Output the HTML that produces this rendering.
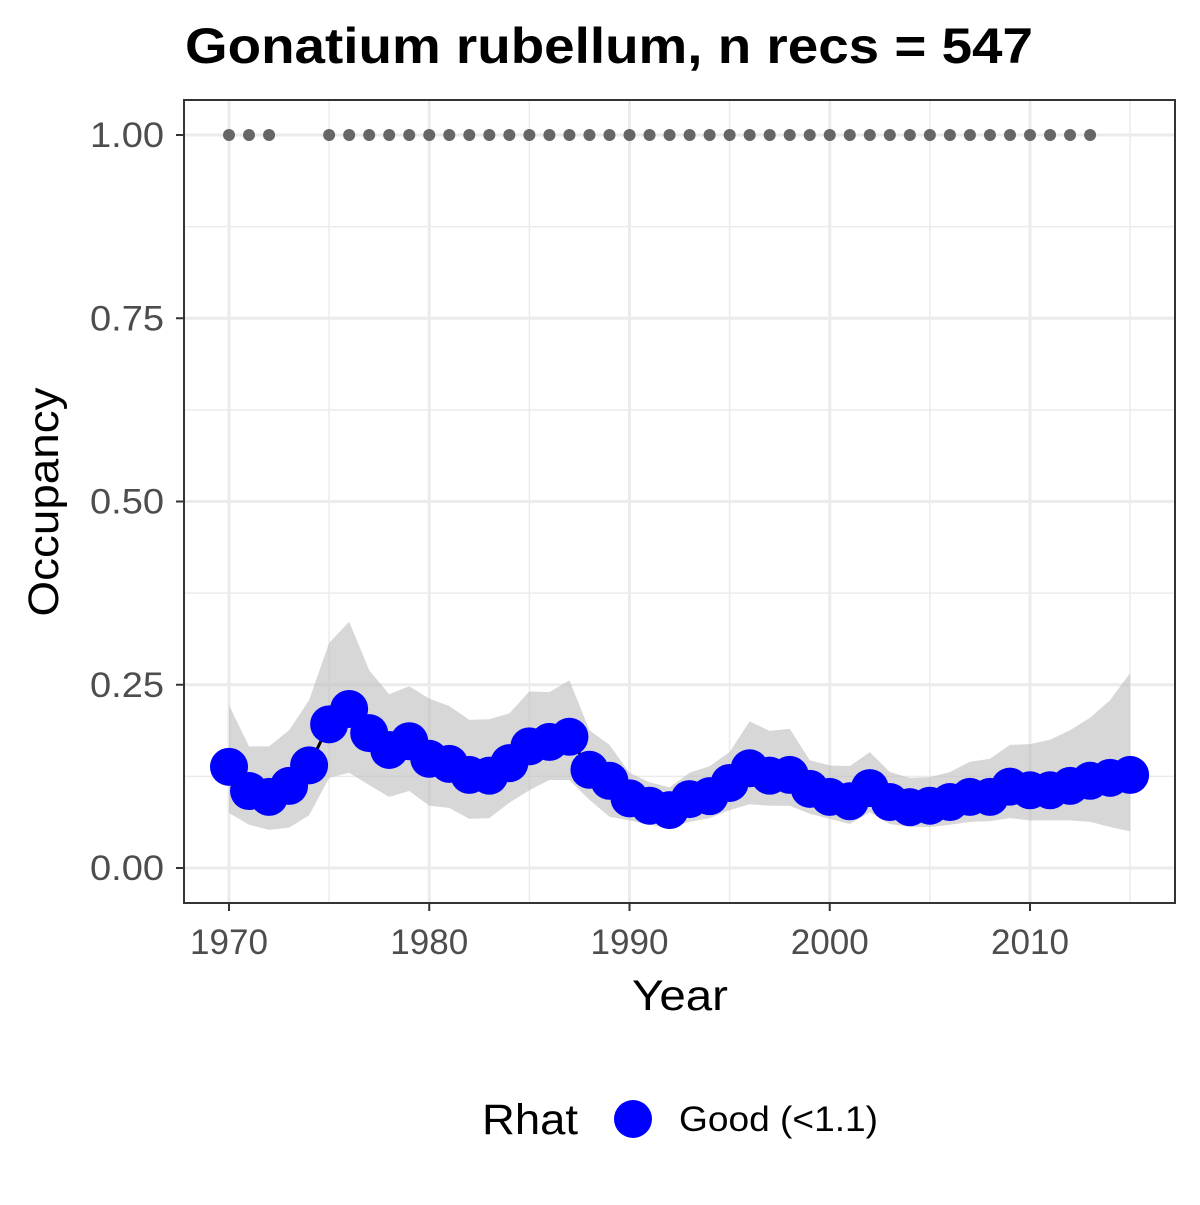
<!DOCTYPE html>
<html><head><meta charset="utf-8"><style>
body{margin:0;background:#fff;}
svg text{font-family:"Liberation Sans",Arial,sans-serif;}
</style></head><body>
<svg id="chart" width="1200" height="1200" viewBox="0 0 1200 1200">
<rect width="1200" height="1200" fill="#fff"/>
<text x="185" y="63" font-size="50" font-weight="bold" fill="#000" textLength="848" lengthAdjust="spacingAndGlyphs">Gonatium rubellum, n recs = 547</text>
<g id="grid"></g>
<g id="band"></g>
<g id="pts"></g>
<g id="recs"></g>
<rect x="184" y="100" width="991" height="803" fill="none" stroke="#333" stroke-width="2"/>
<g id="axes"></g>
<text x="680" y="1010" font-size="43" text-anchor="middle" fill="#000" textLength="96" lengthAdjust="spacingAndGlyphs">Year</text>
<text transform="translate(58,502) rotate(-90)" font-size="43" text-anchor="middle" fill="#000" textLength="229" lengthAdjust="spacingAndGlyphs">Occupancy</text>
<g>
<text x="482" y="1134" font-size="43" fill="#000" textLength="96" lengthAdjust="spacingAndGlyphs">Rhat</text>
<circle cx="633" cy="1119" r="19" fill="#0000ff"/>
<text x="679" y="1131" font-size="35" fill="#000" textLength="199" lengthAdjust="spacingAndGlyphs">Good (&lt;1.1)</text>
</g>
</svg>
<script>
const years=[1970,1971,1972,1973,1974,1975,1976,1977,1978,1979,1980,1981,1982,1983,1984,1985,1986,1987,1988,1989,1990,1991,1992,1993,1994,1995,1996,1997,1998,1999,2000,2001,2002,2003,2004,2005,2006,2007,2008,2009,2010,2011,2012,2013,2014,2015];
const occupancy=[0.138,0.105,0.097,0.112,0.14,0.196,0.217,0.184,0.161,0.173,0.149,0.142,0.127,0.126,0.143,0.166,0.172,0.179,0.134,0.119,0.095,0.085,0.079,0.094,0.098,0.116,0.136,0.126,0.127,0.108,0.097,0.091,0.109,0.09,0.083,0.085,0.09,0.097,0.097,0.111,0.106,0.106,0.112,0.119,0.123,0.127];
const upper=[0.222,0.166,0.166,0.188,0.229,0.307,0.336,0.27,0.237,0.248,0.231,0.221,0.202,0.203,0.211,0.241,0.24,0.256,0.188,0.168,0.13,0.117,0.11,0.13,0.139,0.158,0.2,0.187,0.19,0.147,0.14,0.139,0.158,0.131,0.123,0.124,0.131,0.145,0.149,0.168,0.169,0.175,0.188,0.205,0.229,0.266];
const lower=[0.075,0.059,0.052,0.055,0.072,0.123,0.13,0.113,0.097,0.105,0.085,0.082,0.067,0.068,0.089,0.106,0.12,0.12,0.093,0.07,0.065,0.059,0.055,0.063,0.068,0.079,0.087,0.085,0.085,0.074,0.067,0.06,0.076,0.06,0.056,0.056,0.059,0.063,0.064,0.068,0.065,0.065,0.065,0.063,0.056,0.05];
const recordYears=[1970,1971,1972,1975,1976,1977,1978,1979,1980,1981,1982,1983,1984,1985,1986,1987,1988,1989,1990,1991,1992,1993,1994,1995,1996,1997,1998,1999,2000,2001,2002,2003,2004,2005,2006,2007,2008,2009,2010,2011,2012,2013];
const xTicks=[1970,1980,1990,2000,2010];
const yTicks=[0,0.25,0.5,0.75,1.0];
const yTickLabels=["0.00","0.25","0.50","0.75","1.00"];

const NS="http://www.w3.org/2000/svg";
const X=v=>229+(v-1970)*20.025;
const Y=v=>868-v*733;
function mk(parent,tag,attrs){const e=document.createElementNS(NS,tag);for(const k in attrs)e.setAttribute(k,attrs[k]);document.getElementById(parent).appendChild(e);return e;}
for(let v=1975;v<=2015;v+=10){const l=mk('grid','line',{x1:X(v),x2:X(v),y1:100,y2:903,stroke:'#ebebeb','stroke-width':1.5});

}
for(let v=0.125;v<1.1;v+=0.25){const l=mk('grid','line',{x1:184,x2:1175,y1:Y(v),y2:Y(v),stroke:'#ebebeb','stroke-width':1.5});

}
xTicks.forEach(v=>{const l=mk('grid','line',{x1:X(v),x2:X(v),y1:100,y2:903,stroke:'#ebebeb','stroke-width':3});


const t=mk('axes','line',{x1:X(v),x2:X(v),y1:903,y2:911,stroke:'#333','stroke-width':2});


const tx=mk('axes','text',{x:X(v),y:954,'font-size':35,'text-anchor':'middle',fill:'#4d4d4d',textLength:78,lengthAdjust:'spacingAndGlyphs'});tx.textContent=v;

});
yTicks.forEach((v,i)=>{const l=mk('grid','line',{x1:184,x2:1175,y1:Y(v),y2:Y(v),stroke:'#ebebeb','stroke-width':3});


const t=mk('axes','line',{x1:176,x2:184,y1:Y(v),y2:Y(v),stroke:'#333','stroke-width':2});


const tx=mk('axes','text',{x:164,y:Y(v)+12,'font-size':35,'text-anchor':'end',fill:'#4d4d4d',textLength:74,lengthAdjust:'spacingAndGlyphs'});tx.textContent=yTickLabels[i];

});
let d=years.map((y,i)=>(i?'L':'M')+X(y)+','+Y(upper[i])).join('');
for(let i=years.length-1;i>=0;i--)d+='L'+X(years[i])+','+Y(lower[i]);
const band=mk('band','path',{d:d+'Z',fill:'#bdbdbd','fill-opacity':0.6});


const ln=mk('band','path',{d:years.map((y,i)=>(i?'L':'M')+X(y)+','+Y(occupancy[i])).join(''),fill:'none',stroke:'#000','stroke-width':3});


years.forEach((y,i)=>{const c=mk('pts','circle',{cx:X(y),cy:Y(occupancy[i]),r:19,fill:'#0000ff'});

});
recordYears.forEach(y=>{const c=mk('recs','circle',{cx:X(y),cy:Y(1),r:6,fill:'#666'});

});
</script>
</body></html>
